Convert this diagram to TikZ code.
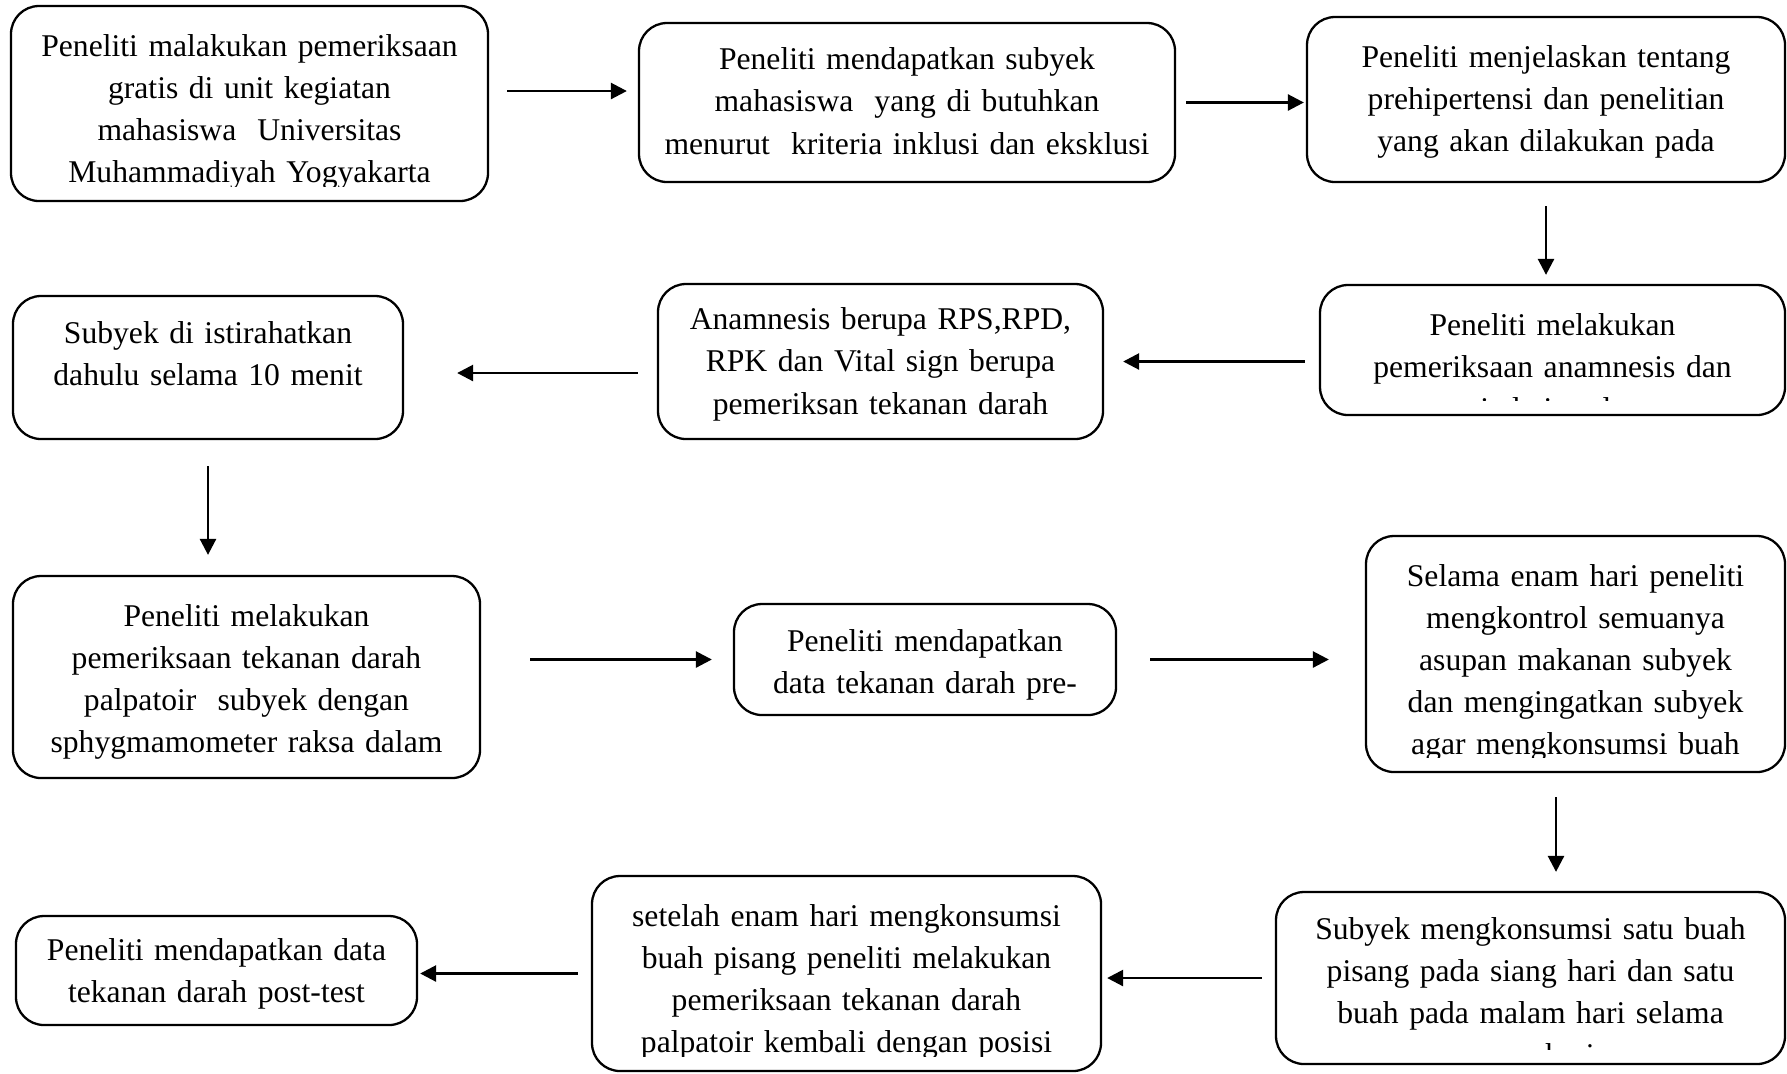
\documentclass[tikz,border=0pt]{standalone}
\usepackage{fontspec}
\setmainfont{Liberation Serif}
\usetikzlibrary{arrows.meta,positioning,calc}

\begin{document}
\begin{tikzpicture}[
    textdrop/.store in=\textdrop, textdrop=1.95mm,
    box/.style={draw, rounded corners=2.8mm, line width=0.65pt, inner sep=0pt},
    boxtext/.style={path picture={
        \clip[rounded corners=0pt] ([yshift=1.5mm]path picture bounding box.south west) rectangle (path picture bounding box.north east);
        \node[anchor=north, inner sep=0pt, minimum width=0pt, minimum height=0pt, text width=6cm, align=center, font=\fontsize{9}{12}\selectfont, execute at begin node=\strut]
            at ([yshift=-\textdrop]path picture bounding box.north) {#1};}},
    arr/.style={-{Triangle[length=1.6mm, width=1.6mm]}, line width=0.75pt}
]
\useasboundingbox (0,0) rectangle (17.87,-10.73);

\node[box, minimum width=4.77cm, minimum height=1.95cm, boxtext={Peneliti malakukan pemeriksaan\\gratis di unit kegiatan\\mahasiswa~ Universitas\\Muhammadiyah Yogyakarta}] (periksa) at (2.495,-1.035) {};
\node[box, minimum width=5.36cm, minimum height=1.59cm, textdrop=1.6mm, boxtext={Peneliti mendapatkan subyek\\mahasiswa~ yang di butuhkan\\menurut~ kriteria inklusi dan eksklusi}] (subyek) at (9.07,-1.025) {};
\node[box, minimum width=4.78cm, minimum height=1.65cm, boxtext={Peneliti menjelaskan tentang\\prehipertensi dan penelitian\\yang akan dilakukan pada}] (jelaskan) at (15.46,-0.995) {};

\node[box, minimum width=4.65cm, minimum height=1.30cm, boxtext={Peneliti melakukan\\pemeriksaan anamnesis dan\\vital sign dan}] (anamnesis) at (15.525,-3.50) {};
\node[box, minimum width=4.45cm, minimum height=1.55cm, textdrop=1.5mm, boxtext={Anamnesis berupa RPS,RPD,\\RPK dan Vital sign berupa\\pemeriksan tekanan darah}] (vital) at (8.805,-3.615) {};
\node[box, minimum width=3.90cm, minimum height=1.43cm, textdrop=1.65mm, boxtext={Subyek di istirahatkan\\dahulu selama 10 menit}] (istirahat) at (2.08,-3.675) {};

\node[box, minimum width=4.67cm, minimum height=2.02cm, boxtext={Peneliti melakukan\\pemeriksaan tekanan darah\\palpatoir~ subyek dengan\\sphygmamometer raksa dalam}] (palpasi) at (2.465,-6.77) {};
\node[box, minimum width=3.82cm, minimum height=1.11cm, textdrop=1.65mm, boxtext={Peneliti mendapatkan\\data tekanan darah pre-}] (pretest) at (9.25,-6.595) {};
\node[box, minimum width=4.19cm, minimum height=2.36cm, boxtext={Selama enam hari peneliti\\mengkontrol semuanya\\asupan makanan subyek\\dan mengingatkan subyek\\agar mengkonsumsi buah}] (kontrol) at (15.755,-6.54) {};

\node[box, minimum width=5.09cm, minimum height=1.72cm, textdrop=1.65mm, boxtext={Subyek mengkonsumsi satu buah\\pisang pada siang hari dan satu\\buah pada malam hari selama\\enam hari}] (pisang) at (15.305,-9.78) {};
\node[box, minimum width=5.09cm, minimum height=1.95cm, boxtext={setelah enam hari mengkonsumsi\\buah pisang peneliti melakukan\\pemeriksaan tekanan darah\\palpatoir kembali dengan posisi}] (ulang) at (8.465,-9.735) {};
\node[box, minimum width=4.01cm, minimum height=1.09cm, textdrop=1.4mm, boxtext={Peneliti mendapatkan data\\tekanan darah post-test}] (posttest) at (2.165,-9.705) {};

\draw[arr, shorten <=1.8mm, shorten >=1.1mm] ([yshift=1.25mm]periksa.east) -- ([yshift=1.25mm]periksa.east -| subyek.west);
\draw[arr, shorten <=1mm, shorten >=0.2mm] (subyek.east) -- (subyek.east -| jelaskan.west);
\draw[arr, shorten <=2.3mm, shorten >=0.9mm] (jelaskan.south) -- (jelaskan.south |- anamnesis.north);
\draw[arr, shorten <=1.4mm, shorten >=1.9mm] (vital.east -| anamnesis.west) -- (vital.east);
\draw[arr, shorten <=1.9mm, shorten >=5.3mm] ([yshift=-1.15mm]vital.west) -- ([yshift=-1.15mm]vital.west -| istirahat.east);
\draw[arr, shorten <=2.6mm, shorten >=2mm] (istirahat.south) -- (istirahat.south |- palpasi.north);
\draw[arr, shorten <=4.9mm, shorten >=2.1mm] (pretest.west -| palpasi.east) -- (pretest.west);
\draw[arr, shorten <=3.3mm, shorten >=3.6mm] (pretest.east) -- (pretest.east -| kontrol.west);
\draw[arr, shorten <=2.4mm, shorten >=1.9mm] ([xshift=-1.95mm]kontrol.south) -- ([xshift=-1.95mm]kontrol.south |- pisang.north);
\draw[arr, shorten <=1.3mm, shorten >=0.5mm] (pisang.west) -- (pisang.west -| ulang.east);
\draw[arr, shorten <=1.3mm, shorten >=0.2mm] (ulang.west) -- (ulang.west -| posttest.east);
\end{tikzpicture}
\end{document}
